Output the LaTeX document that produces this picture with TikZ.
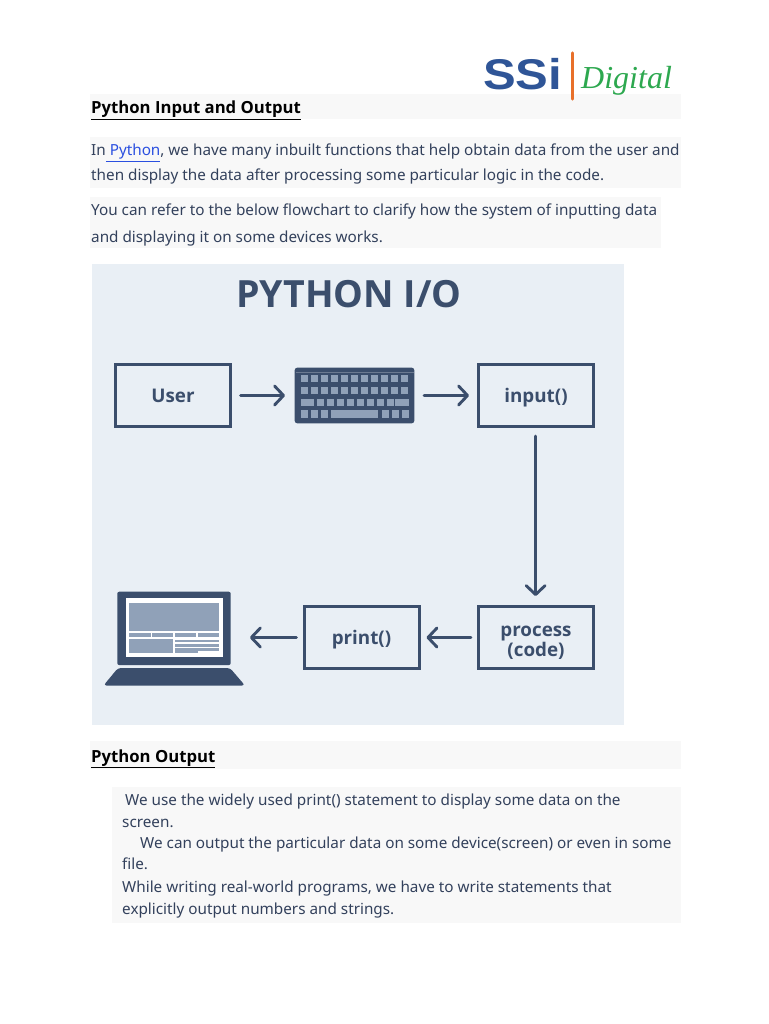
\documentclass[tikz,border=0pt]{standalone}
\usepackage{fontspec}
\setmainfont{Noto Sans}
\newfontfamily\boldf{Open Sans}[Ligatures=TeX]
\newfontfamily\logofont{Liberation Sans}
\newfontfamily\scriptf{Liberation Serif}
\usetikzlibrary{arrows.meta}
\definecolor{navy}{HTML}{3B4E6C}
\definecolor{keyc}{HTML}{90A1B8}
\definecolor{panel}{HTML}{E9EFF5}
\definecolor{bodytxt}{HTML}{33415C}
\definecolor{strip}{HTML}{F8F8F8}
\definecolor{ssiblue}{HTML}{2F5597}
\definecolor{ssigreen}{HTML}{2DA84F}
\definecolor{ssiorange}{HTML}{E8702A}
\definecolor{linkblue}{HTML}{2A4FE0}
\tikzset{
  x=1pt,y=-1pt,
  flowbox/.style={draw=navy,line width=3pt,fill=panel,minimum width=115pt,minimum height=62pt,inner sep=0pt,text=navy,font=\boldf\fontsize{18.8}{20}\selectfont\bfseries,align=center},
  oneline/.style={text height=14pt,text depth=0pt},
  flowarrow/.style={draw=navy,line width=2.9pt,line cap=round,-{Straight Barb[length=9pt,width=19pt,line width=2.9pt,round]}},
  bodyline/.style={anchor=base west,inner sep=0pt,text=bodytxt,font=\fontsize{15.27}{18}\selectfont},
  plainline/.style={anchor=base west,inner sep=0pt,text=bodytxt,font=\fontsize{15.27}{18}\selectfont},
  heading/.style={anchor=base west,inner sep=0pt,text=black,font=\boldf\fontsize{16.7}{19}\selectfont\bfseries},
  stripbg/.style={fill=strip,draw=none},
  key/.style={fill=keyc,draw=none}
}
\begin{document}
\begin{tikzpicture}
\useasboundingbox (0,0) rectangle (768,1024);
\fill[white] (0,0) rectangle (768,1024);
% strips
\fill[stripbg] (90,94) rectangle (681,119);
\fill[stripbg] (90,137) rectangle (681,188);
\fill[stripbg] (90,197) rectangle (661,248);
\fill[stripbg] (90,741) rectangle (681,769);
\fill[stripbg] (112,787) rectangle (681,923);
% logo
\node[anchor=base west,inner sep=0pt,text=ssiblue,font=\logofont\fontsize{43}{43}\selectfont\bfseries] (logo) at (483,90) {\scalebox{1.14}[1]{SSi}};
\draw[ssiorange,line width=3.4pt,line cap=round] (572.5,53) -- (572.5,99);
\node[anchor=base west,inner sep=0pt,text=ssigreen,font=\scriptf\fontsize{32}{33}\selectfont\itshape] (digital) at (581,89) {Digital};
% headings
\node[heading] (h1) at (91,114) {\underline{Python Input and Output}};
\node[heading] (h2) at (91,762) {\underline{Python Output}};
% paragraphs
\node[bodyline] (p1a) at (91,156) {In\textcolor{linkblue}{\underline{ Python}}, we have many inbuilt functions that help obtain data from the user and};
\node[bodyline] (p1b) at (91,181) {then display the data after processing some particular logic in the code.};
\node[bodyline] (p2a) at (91,216) {You can refer to the below flowchart to clarify how the system of inputting data};
\node[bodyline] (p2b) at (91,242) {and displaying it on some devices works.};
\node[plainline] (p3a) at (125,805) {We use the widely used print() statement to display some data on the};
\node[plainline] (p3b) at (122,827) {screen.};
\node[plainline] (p3c) at (140,848) {We can output the particular data on some device(screen) or even in some};
\node[plainline] (p3d) at (122,869) {file.};
\node[plainline] (p3e) at (122,892) {While writing real-world programs, we have to write statements that};
\node[plainline] (p3f) at (122,914) {explicitly output numbers and strings.};
% panel
\fill[panel] (92,264) rectangle (624,725);
\node[text=navy,font=\boldf\fontsize{37.5}{40}\selectfont\bfseries,inner sep=0pt] (title) at (349,294) {PYTHON I/O};
% boxes
\node[flowbox,oneline] (user) at (173,395.5) {User};
\node[flowbox,oneline] (input) at (536,395.5) {input()};
\node[flowbox] (process) at (536,637.5) {\rule{0pt}{20pt}process\\(code)};
\node[flowbox,oneline] (print) at (361.5,637.5) {print()};
% keyboard
\node[fill=navy,draw=none,rounded corners=2.5pt,minimum width=119.6pt,minimum height=55.6pt,inner sep=0pt] (kbd) at (354.5,395.5) {};
\draw[line width=0.7pt,draw=navy!75!white] (295.5,372) -- (413.5,372);
\foreach \y in {375,387}{
  \foreach \i in {0,...,10}{
    \fill[key] ({300.7+\i*10}, \y) rectangle ++(7.4,7.4);
  }
}
\fill[key] (300.7,399) rectangle ++(13.6,7);
\foreach \i in {0,...,7}{ \fill[key] ({316.7+\i*10}, 399) rectangle ++(7.4,7); }
\fill[key] (395,399) rectangle ++(14,7);
\foreach \xx in {300.7,310.7,320.7,381.7,391.7,401.7}{ \fill[key] (\xx,410.3) rectangle ++(7.4,7.6); }
\fill[key] (330.7,410.3) rectangle (378.3,417.9);
% laptop
\node[fill=navy,draw=none,rounded corners=2pt,minimum width=113.4pt,minimum height=73.4pt,inner sep=0pt] (lapbody) at (174,628.4) {};
\fill[white] (126,598.3) rectangle (223.3,657.3);
\fill[keyc] (129.3,603) rectangle (218.7,630.7);
\foreach \xx/\w in {129.3/21.4,152/21.4,175/21,197.7/21}{ \fill[keyc] (\xx,633) rectangle ++(\w,4.3); }
\fill[keyc] (129.3,639.3) rectangle (172.7,652.7);
\foreach \yy in {639.5,643.8,648}{ \fill[keyc] (175,\yy) rectangle (218.7,\yy+2.8); }
\fill[keyc] (175,649.5) rectangle (197.7,652.7);
\fill[navy,rounded corners=3pt] (118,668) -- (230,668) -- (245,685.5) -- (103.5,685.5) -- cycle;
% connectors
\coordinate (a1s) at ([xshift=8.5pt]user.east);
\coordinate (a1e) at ([xshift=-9.5pt]kbd.west);
\draw[flowarrow] (a1s) -- (a1e);
\coordinate (a2s) at ([xshift=9.5pt]kbd.east);
\coordinate (a2e) at ([xshift=-8pt]input.west);
\draw[flowarrow] (a2s) -- (a2e);
\coordinate (a3s) at ([xshift=-0.4pt,yshift=-8pt]input.south);
\coordinate (a3e) at ([xshift=-0.4pt,yshift=9pt]process.north);
\draw[flowarrow] (a3s) -- (a3e);
\coordinate (a4s) at ([xshift=-6pt]process.west);
\coordinate (a4e) at ([xshift=6pt]print.east);
\draw[flowarrow] (a4s) -- (a4e);
\coordinate (a5s) at ([xshift=-6pt]print.west);
\coordinate (a5e) at ([xshift=19pt]lapbody.east);
\draw[flowarrow] (a5s) -- (a5e |- a5s);
\end{tikzpicture}
\end{document}
